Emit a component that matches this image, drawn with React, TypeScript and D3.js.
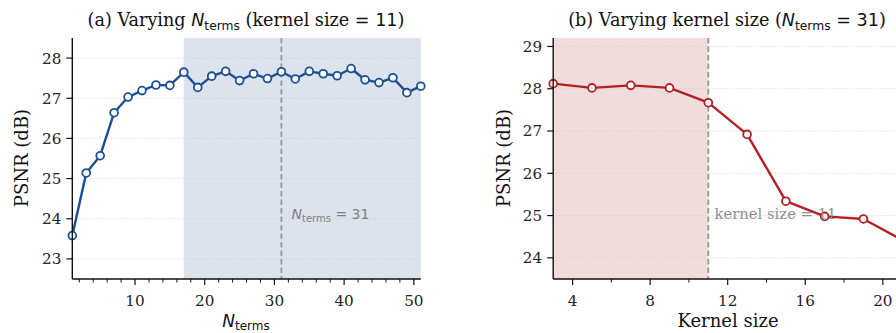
import React from "react";
import * as d3 from "d3";

const nTerms = [1,3,5,7,9,11,13,15,17,19,21,23,25,27,29,31,33,35,37,39,41,43,45,47,49,51];
const psnrTerms = [23.58,25.14,25.57,26.64,27.03,27.19,27.33,27.32,27.65,27.27,27.55,27.67,27.44,27.61,27.49,27.66,27.48,27.67,27.61,27.56,27.74,27.46,27.39,27.51,27.14,27.30];
const kernelSizes = [3,5,7,9,11,13,15,17,19,21];
const psnrKernel = [28.12,28.02,28.08,28.02,27.67,26.92,25.34,24.98,24.92,24.42];
const leftYTicks = [23,24,25,26,27,28];
const leftXTicks = [10,20,30,40,50];
const leftXMinor = [2,4,6,8,12,14,16,18,22,24,26,28,32,34,36,38,42,44,46,48];
const rightYTicks = [24,25,26,27,28,29];
const rightXTicks = [4,8,12,16,20];
const rightXMinor = [6,10,14,18];

const SERIF = "DejaVu Serif";
const SANS = "DejaVu Sans";
const TOP = 38, BOTTOM = 279;

function Panel(props: any) {
  const { x0, x1, xDomain, yDomain, xs, ys, yTicks, xTicks, xMinor, color, shade, shadeColor, vline } = props;
  const x = d3.scaleLinear().domain(xDomain).range([x0, x1]);
  const y = d3.scaleLinear().domain(yDomain).range([BOTTOM, TOP]);
  const line = d3.line<number>().x((d, i) => x(xs[i])).y((d) => y(d));
  return (
    <g>
      <rect x={x(shade[0])} y={TOP} width={x(shade[1]) - x(shade[0])} height={BOTTOM - TOP} fill={shadeColor} />
      {yTicks.map((t: number) => (
        <line key={"g" + t} x1={x0} x2={x1} y1={y(t)} y2={y(t)} stroke="#c8c8c8" strokeWidth={0.8} strokeDasharray="1,2" />
      ))}
      <line x1={x(vline)} x2={x(vline)} y1={TOP} y2={BOTTOM} stroke="#999" strokeWidth={1.8} strokeDasharray="5.5,3" />
      <path d={line(ys) || ""} fill="none" stroke={color} strokeWidth={2.4} strokeLinejoin="round" />
      {ys.map((v: number, i: number) => (
        <circle key={i} cx={x(xs[i])} cy={y(v)} r={3.9} fill="white" stroke={color} strokeWidth={1.8} />
      ))}
      <line x1={x0} x2={x0} y1={TOP} y2={BOTTOM} stroke="#111" strokeWidth={1.4} />
      <line x1={x0} x2={x1} y1={BOTTOM} y2={BOTTOM} stroke="#111" strokeWidth={1.4} />
      {yTicks.map((t: number) => (
        <g key={"y" + t}>
          <line x1={x0 - 6} x2={x0} y1={y(t)} y2={y(t)} stroke="#111" strokeWidth={1.2} />
          <text x={x0 - 11} y={y(t)} dy="0.36em" textAnchor="end" fontFamily={SERIF} fontSize={15.2} fill="#222">{t}</text>
        </g>
      ))}
      {xTicks.map((t: number) => (
        <g key={"x" + t}>
          <line x1={x(t)} x2={x(t)} y1={BOTTOM} y2={BOTTOM + 6} stroke="#111" strokeWidth={1.2} />
          <text x={x(t)} y={305.5} textAnchor="middle" fontFamily={SERIF} fontSize={15.2} fill="#222">{t}</text>
        </g>
      ))}
      {xMinor.map((t: number) => (
        <line key={"m" + t} x1={x(t)} x2={x(t)} y1={BOTTOM} y2={BOTTOM + 3.5} stroke="#111" strokeWidth={1} />
      ))}
    </g>
  );
}

export default function App() {
  return (
    <svg width={896} height={333} style={{ position: "absolute", left: 0, top: 0, background: "white" }}>
      <Panel x0={72.3} x1={420.8} xDomain={[1, 51]} yDomain={[22.5, 28.5]} xs={nTerms} ys={psnrTerms}
        yTicks={leftYTicks} xTicks={leftXTicks} xMinor={leftXMinor} color="#1d4f95"
        shade={[17, 51]} shadeColor="#dce3ed" vline={31} />
      <Panel x0={553.2} x1={902.2} xDomain={[3, 21]} yDomain={[23.5, 29.2]} xs={kernelSizes} ys={psnrKernel}
        yTicks={rightYTicks} xTicks={rightXTicks} xMinor={rightXMinor} color="#b22024"
        shade={[3, 11]} shadeColor="#f1dcdc" vline={11} />

      {/* annotations */}
      <text x={291.5} y={219} fontFamily={SANS} fontSize={14} fill="#808080">
        <tspan fontStyle="italic">N</tspan>
        <tspan fontSize={10} dy={3}>terms</tspan>
        <tspan dy={-3}> = 31</tspan>
      </text>
      <text x={714.5} y={219} fontFamily={SERIF} fontSize={14.8} fill="#8a8a8a" opacity={0.95}>kernel size = 11</text>

      {/* titles */}
      <text x={246} y={26} textAnchor="middle" fontFamily={SERIF} fontSize={17.6} fill="#111">
        (a) Varying <tspan fontFamily={SANS} fontStyle="italic">N</tspan>
        <tspan fontFamily={SANS} fontSize={12.3} dy={3.5}>terms</tspan>
        <tspan dy={-3.5}> (kernel size </tspan>
        <tspan fontFamily={SANS}>= 11</tspan>)
      </text>
      <text x={727} y={26} textAnchor="middle" fontFamily={SERIF} fontSize={17.6} fill="#111">
        (b) Varying kernel size (<tspan fontFamily={SANS} fontStyle="italic">N</tspan>
        <tspan fontFamily={SANS} fontSize={12.3} dy={3.5}>terms</tspan>
        <tspan fontFamily={SANS} dy={-3.5}> = 31</tspan>)
      </text>

      {/* axis labels */}
      <text x={246} y={327} textAnchor="middle" fontFamily={SANS} fontSize={17} fill="#111">
        <tspan fontStyle="italic">N</tspan>
        <tspan fontSize={12} dy={3}>terms</tspan>
      </text>
      <text x={728} y={327} textAnchor="middle" fontFamily={SERIF} fontSize={18} fill="#111">Kernel size</text>
      <text transform="translate(28,158) rotate(-90)" textAnchor="middle" fontFamily={SERIF} fontSize={18} fill="#111">PSNR (dB)</text>
      <text transform="translate(510,158) rotate(-90)" textAnchor="middle" fontFamily={SERIF} fontSize={18} fill="#111">PSNR (dB)</text>
    </svg>
  );
}
